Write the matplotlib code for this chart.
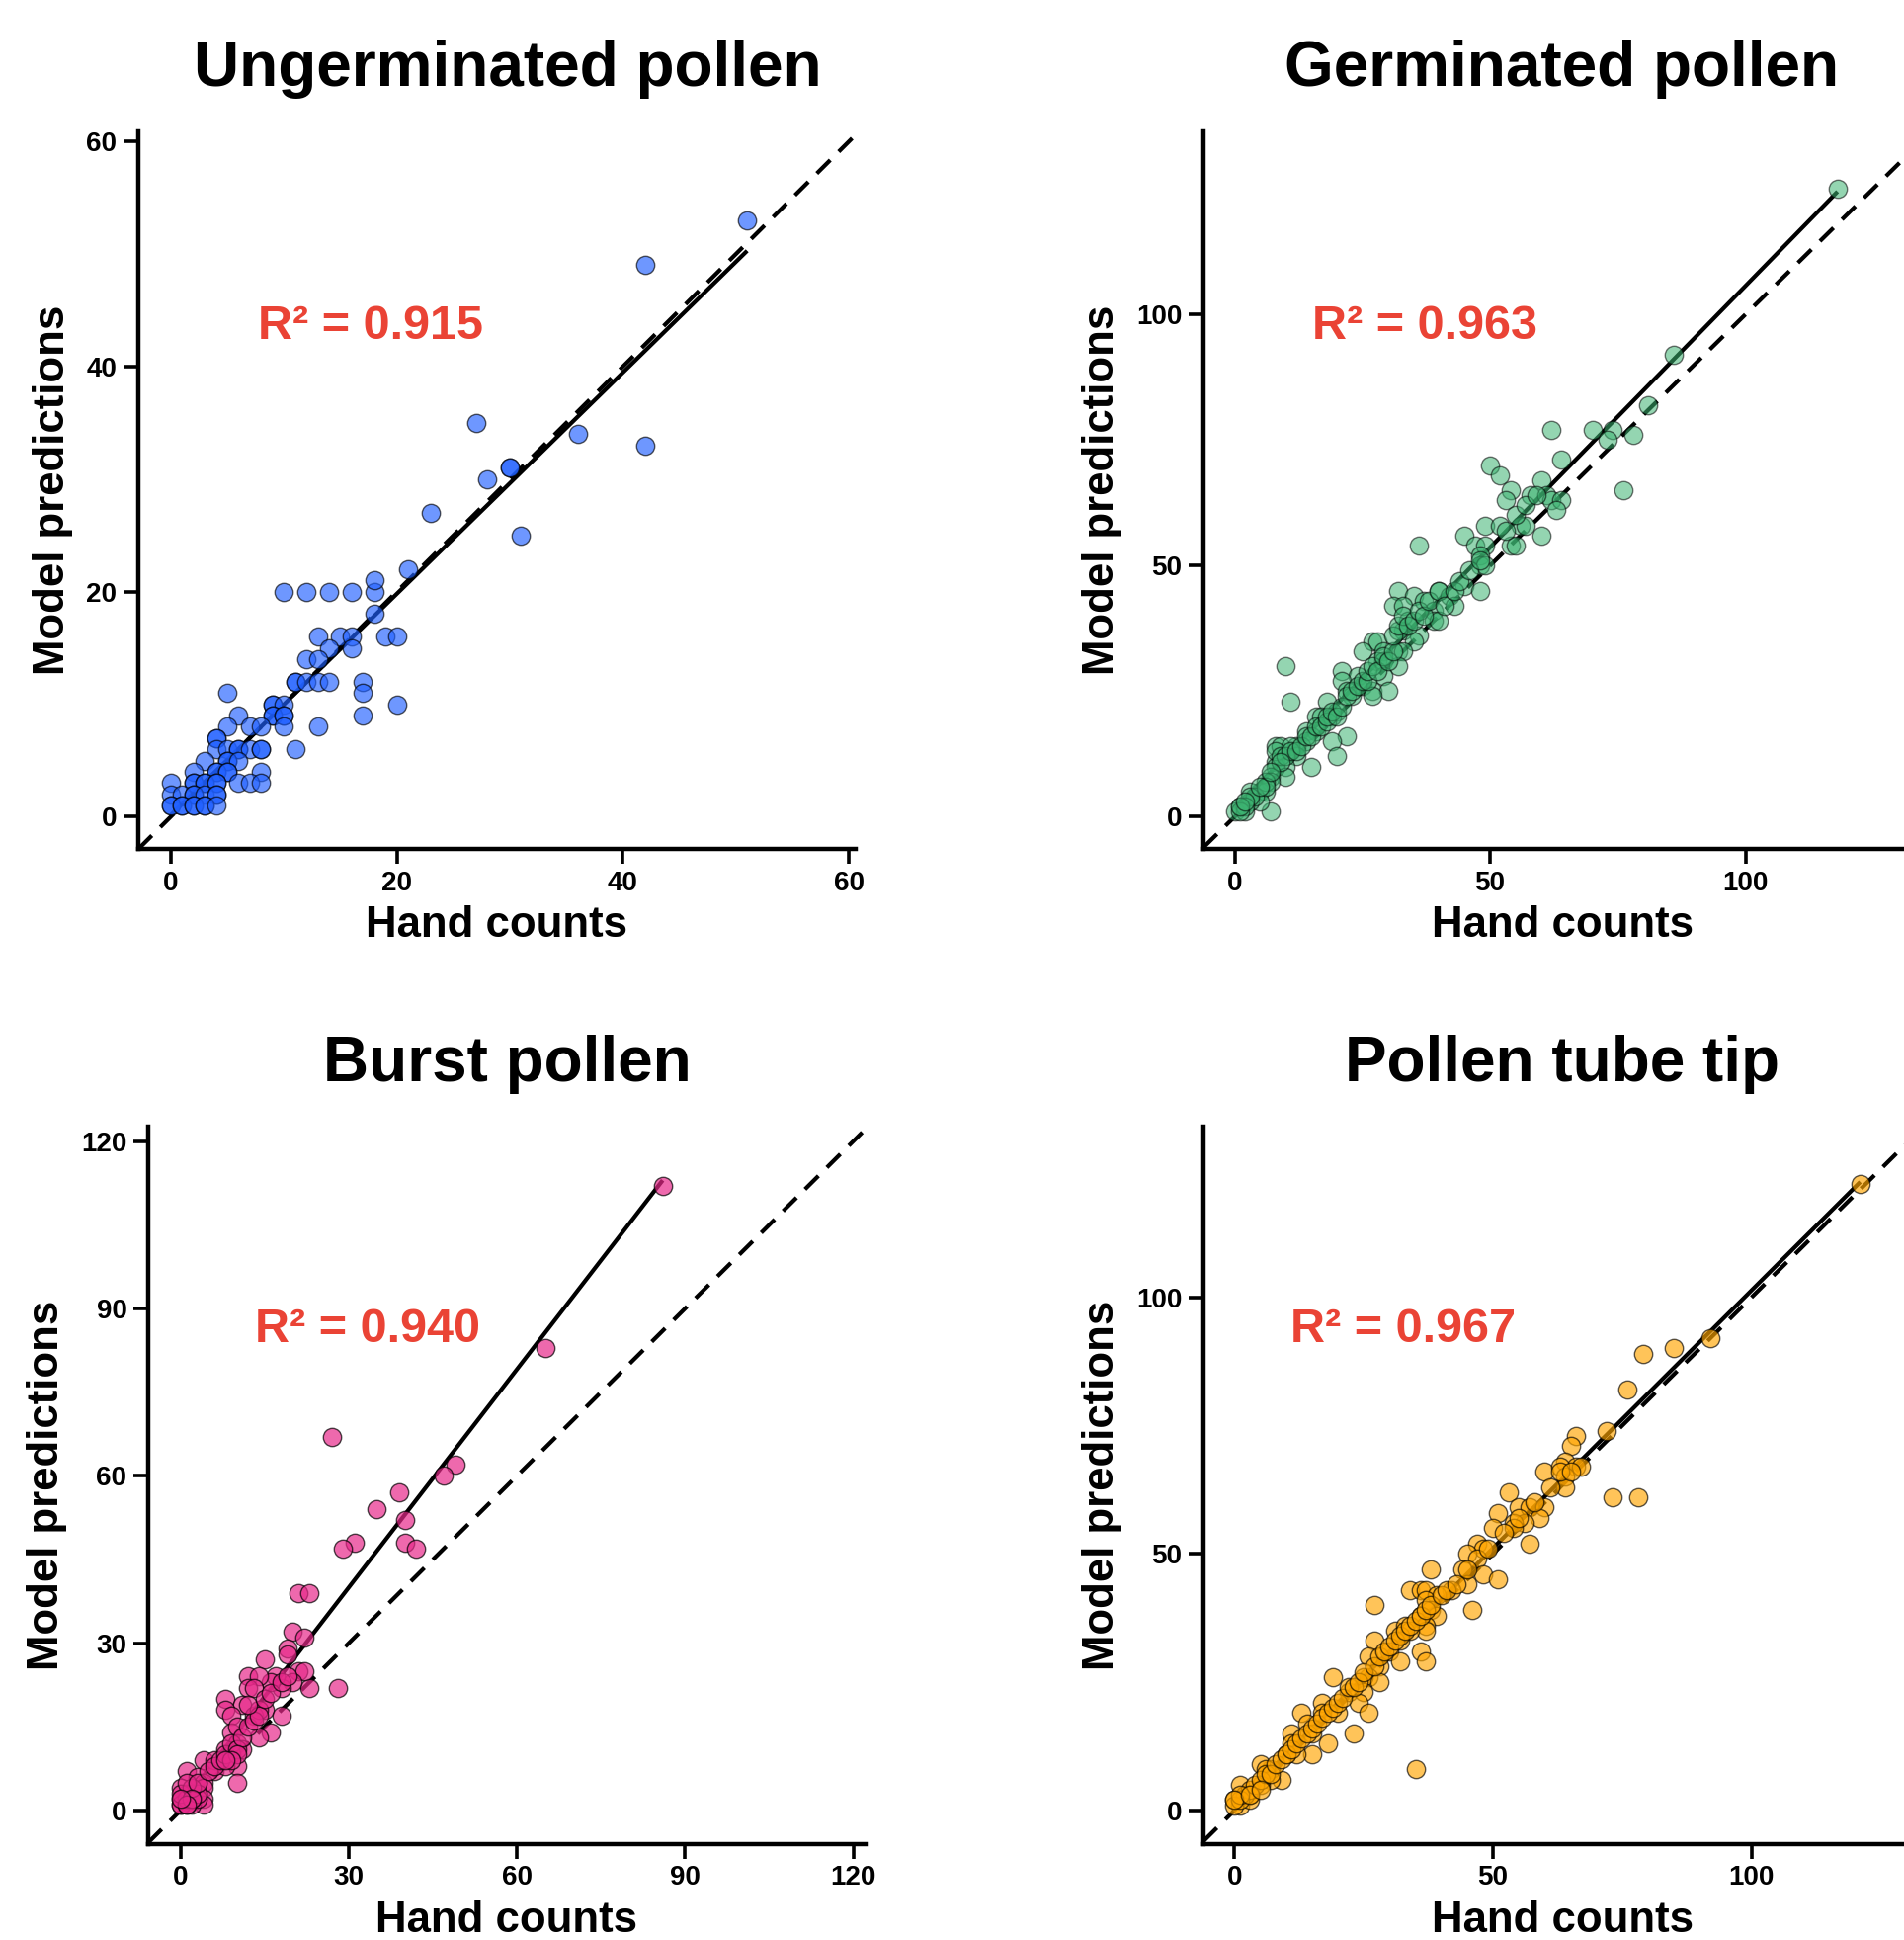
import numpy as np
import matplotlib
matplotlib.use("Agg")
import matplotlib.pyplot as plt

plt.rcParams['font.family'] = ['Liberation Sans', 'DejaVu Sans']
plt.rcParams['font.weight'] = 'bold'

# ---------------- data ----------------
titles = ["Ungerminated pollen", "Germinated pollen", "Burst pollen", "Pollen tube tip"]
r2_labels = ["R\u00b2 = 0.915", "R\u00b2 = 0.963", "R\u00b2 = 0.940", "R\u00b2 = 0.967"]
x_label = "Hand counts"
y_label = "Model predictions"

ung_x = [51, 42, 42, 27, 36, 30, 30, 28, 23, 31, 21,
         10, 12, 14, 16, 18, 18, 18,
         13, 15, 16, 19, 20, 14, 16, 12, 13,
         11, 11, 12, 13, 14, 17, 17, 20, 17,
         5, 9, 9, 10, 9, 9, 10, 10, 10, 13, 11,
         6, 5, 7, 8, 4, 4, 4, 5, 6, 6, 7, 8, 8,
         3, 5, 5, 6, 2, 4, 4, 5, 5, 8,
         0, 2, 2, 3, 3, 4, 4, 6, 7, 8,
         0, 1, 2, 2, 3, 4, 4,
         0, 0, 1, 1, 2, 2, 3, 3, 4]
ung_y = [53, 49, 33, 35, 34, 31, 31, 30, 27, 25, 22,
         20, 20, 20, 20, 20, 21, 18,
         16, 16, 16, 16, 16, 15, 15, 14, 14,
         12, 12, 12, 12, 12, 12, 11, 10, 9,
         11, 10, 10, 10, 9, 9, 9, 9, 8, 8, 6,
         9, 8, 8, 8, 7, 7, 6, 6, 6, 6, 6, 6, 6,
         5, 5, 5, 5, 4, 4, 4, 4, 4, 4,
         3, 3, 3, 3, 3, 3, 3, 3, 3, 3,
         2, 2, 2, 2, 2, 2, 2,
         1, 1, 1, 1, 1, 1, 1, 1, 1]

ger_x = [118, 86, 81, 78, 76, 62, 70, 74, 73, 64, 50, 52, 54, 53, 60, 58, 61, 62, 64, 63,
         49, 52, 56, 57, 60, 45, 54, 55, 36, 47, 49, 48, 48, 49, 45, 48, 32, 40, 42, 35,
         37, 43, 31, 33, 39, 39, 40, 34, 33, 32, 36, 35, 27, 28, 25, 29, 32, 33, 28, 29,
         32, 10, 21, 24, 29, 21, 25, 22, 23, 27, 30, 27, 11, 18, 20, 16, 17, 19, 14, 16,
         22, 19, 20, 14, 12, 8, 9, 11, 15, 12, 8, 10, 8, 10, 7, 7, 5, 3, 6, 7,
         5, 3, 1, 0, 2,
         8, 9, 10, 11, 12, 13, 14, 15, 16, 17, 18, 18, 19, 20, 21, 22, 23, 24, 25, 26,
         26, 27, 28, 29, 30, 31, 31, 32, 33, 34, 35, 36, 37, 38, 40, 41, 43, 44, 46, 48,
         53, 55, 57, 59, 6, 4, 3, 2, 1, 1, 2, 6, 5, 9, 7]
ger_y = [125, 92, 82, 76, 65, 77, 77, 77, 75, 71, 70, 68, 65, 63, 67, 64, 64, 63, 63, 61,
         58, 58, 58, 58, 56, 56, 54, 54, 54, 54, 54, 52, 50, 50, 46, 45, 45, 45, 44, 44,
         43, 42, 42, 42, 41, 39, 39, 39, 37, 37, 36, 35, 35, 35, 33, 33, 33, 33, 31, 31,
         30, 30, 29, 28, 28, 27, 26, 25, 24, 25, 25, 24, 23, 23, 21, 20, 20, 20, 17, 17,
         16, 15, 12, 15, 14, 14, 14, 14, 10, 12, 11, 10, 10, 8, 8, 7, 5, 5, 5, 1,
         3, 3, 2, 1, 1,
         13, 12, 12, 13, 13, 14, 16, 16, 18, 18, 19, 20, 21, 20, 22, 24, 25, 26, 27, 27,
         29, 30, 29, 32, 31, 33, 36, 38, 40, 38, 39, 41, 40, 43, 45, 42, 45, 47, 49, 51,
         57, 60, 62, 64, 7, 4, 4, 2, 1, 2, 3, 6, 6, 11, 9]

bur_x = [86, 65, 27, 49, 47, 39, 35, 40, 31, 29, 40, 42, 21, 23, 20, 22, 19, 19, 15, 28,
         23, 21, 22, 20, 18, 17, 16, 12, 14, 12, 13, 8, 11, 15, 8, 9, 13, 18, 14, 16,
         14, 9, 10, 10, 8, 11, 9, 10, 10, 6, 8, 4, 6, 1, 3, 4, 4, 0, 1, 2,
         4, 4, 0, 0, 2, 1, 3,
         0, 1, 1, 2, 3, 0, 2, 1, 3, 5, 6, 7, 8, 9, 10, 11, 12, 13, 14, 12,
         15, 16, 18, 19, 2, 1, 0, 10, 9, 8]
bur_y = [112, 83, 67, 62, 60, 57, 54, 52, 48, 47, 48, 47, 39, 39, 32, 31, 29, 28, 27, 22,
         22, 25, 25, 23, 22, 24, 23, 24, 24, 22, 22, 20, 19, 18, 18, 17, 17, 17, 18, 14,
         13, 14, 15, 12, 11, 11, 10, 8, 5, 7, 8, 9, 9, 7, 6, 5, 4, 4, 3, 3,
         2, 1, 2, 1, 1, 2, 2,
         1, 1, 2, 2, 3, 3, 4, 5, 5, 7, 8, 9, 10, 12, 11, 13, 15, 16, 17, 19,
         20, 21, 23, 24, 2, 1, 2, 10, 9, 9]

tip_x = [121, 92, 79, 85, 76, 72, 73, 78, 66, 65, 64, 66, 67, 60, 63, 64, 64, 53, 55, 57,
         60, 51, 59, 56, 54, 54, 50, 57, 47, 48, 45, 47, 44, 48, 45, 51, 38, 42, 46, 27,
         34, 36, 37, 39, 37, 38, 39, 36, 37, 37, 31, 33, 34, 32, 30, 27, 36, 37, 32, 35,
         28, 26, 26, 25, 28, 19, 22, 25, 24, 26, 23, 17, 20, 17, 13, 18, 15, 14, 15, 11,
         11, 10, 12, 9, 7, 5, 6, 7, 5, 1, 3, 0, 1, 3,
         2, 3, 4, 5, 6, 7, 8, 9, 10, 11, 12, 13, 14, 15, 16, 17, 18, 19, 20, 21,
         22, 23, 24, 25, 27, 28, 29, 30, 31, 32, 33, 34, 35, 36, 37, 38, 40, 41, 43, 45,
         49, 52, 55, 58, 61, 63, 65, 0, 1, 1, 0, 3, 5]
tip_y = [122, 92, 89, 90, 82, 74, 61, 61, 73, 71, 68, 67, 67, 66, 67, 65, 63, 62, 59, 59,
         59, 58, 57, 56, 56, 55, 55, 52, 52, 51, 50, 49, 47, 46, 44, 45, 47, 43, 39, 40,
         43, 43, 43, 42, 41, 39, 38, 38, 36, 35, 35, 36, 35, 33, 31, 33, 31, 29, 29, 8,
         28, 30, 26, 26, 25, 26, 23, 23, 21, 19, 15, 21, 19, 19, 19, 13, 11, 17, 15, 15,
         13, 11, 11, 6, 8, 9, 8, 6, 5, 5, 3, 2, 1, 2,
         3, 4, 5, 6, 7, 7, 9, 10, 11, 12, 13, 14, 15, 16, 17, 18, 19, 20, 21, 22,
         24, 24, 25, 27, 28, 30, 31, 32, 33, 34, 35, 36, 37, 38, 39, 40, 42, 43, 44, 47,
         51, 54, 57, 60, 63, 66, 66, 1, 2, 3, 2, 3, 4]

panel_x = [ung_x, ger_x, bur_x, tip_x]
panel_y = [ung_y, ger_y, bur_y, tip_y]
colors = ["#2060ff", "#3CB371", "#E7298A", "#FFA500"]
alphas = [0.65, 0.55, 0.7, 0.65]

xlims = [(-2.87, 60.6), (-6.1, 134.3), (-5.8, 122.2), (-6.0, 132.7)]
ylims = [(-2.86, 60.9), (-6.4, 136.4), (-6.0, 122.7), (-6.5, 133.3)]
xticks = [[0, 20, 40, 60], [0, 50, 100], [0, 30, 60, 90, 120], [0, 50, 100]]
yticks = [[0, 20, 40, 60], [0, 50, 100], [0, 30, 60, 90, 120], [0, 50, 100]]

# ---------------- layout ----------------
W, H = 1927, 1963
fig = plt.figure(figsize=(W / 100, H / 100), dpi=100)
side = 726
lefts = [140, 1218, 150, 1218]
bottoms = [859, 859, 1865.6, 1865.6]
text_pos = [(0.166, 0.711), (0.1515, 0.711), (0.149, 0.699), (0.1215, 0.699)]
title_x = [0.515, 0.5, 0.5, 0.5]

for i in range(4):
    ax = fig.add_axes([lefts[i] / W, (H - bottoms[i]) / H, side / W, side / H])
    x = np.array(panel_x[i], dtype=float)
    y = np.array(panel_y[i], dtype=float)

    ax.axline((0, 0), slope=1, color="black", lw=3.0, dashes=(4.6, 2.9), zorder=1)
    coef = np.polyfit(x, y, 1)
    xs = np.array([x.min(), x.max()])
    ax.plot(xs, np.polyval(coef, xs), color="black", lw=3.0, zorder=2,
            solid_capstyle="butt")
    ax.scatter(x, y, s=175, c=colors[i], alpha=alphas[i], edgecolors="black",
               linewidths=1.0, zorder=3)

    ax.set_xlim(*xlims[i])
    ax.set_ylim(*ylims[i])
    ax.set_xticks(xticks[i])
    ax.set_yticks(yticks[i])

    for s in ["top", "right"]:
        ax.spines[s].set_visible(False)
    for s in ["left", "bottom"]:
        ax.spines[s].set_linewidth(3.2)
    ax.tick_params(width=2.6, length=10.5, labelsize=20, pad=5, direction="out")
    for lab in ax.get_xticklabels() + ax.get_yticklabels():
        lab.set_fontweight("bold")

    ax.set_xlabel(x_label, fontsize=31.5, fontweight="bold", labelpad=7)
    ax.set_ylabel(y_label, fontsize=31.5, fontweight="bold", labelpad=10)
    ax.set_title(titles[i], fontsize=46, fontweight="bold", pad=33, x=title_x[i])
    ax.text(text_pos[i][0], text_pos[i][1], r2_labels[i], transform=ax.transAxes,
            color="#EA4335", fontsize=35, fontweight="bold", va="baseline", ha="left")

fig.savefig("out.png", dpi=100)
